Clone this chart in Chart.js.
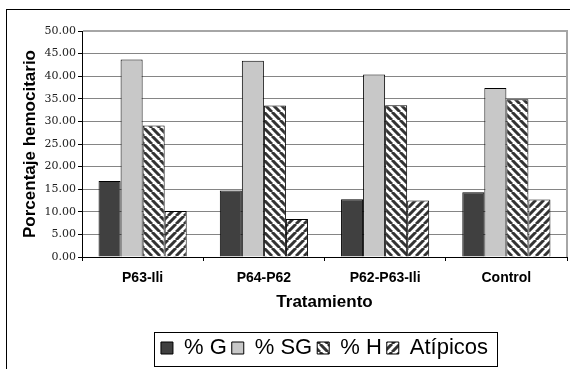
<!DOCTYPE html>
<html>
<head>
<meta charset="utf-8">
<script src="https://cdn.jsdelivr.net/npm/chart.js@4"></script>
<style>
  html, body { margin: 0; padding: 0; background: #fff; }
  canvas { display: block; }
</style>
</head>
<body>
<canvas id="c" width="570" height="369"></canvas>
<script>
const categories = ['P63-Ili', 'P64-P62', 'P62-P63-Ili', 'Control'];
const seriesNames = ['% G', '% SG', '% H', 'Atípicos'];
const valuesG = [16.8, 14.7, 12.8, 14.3];
const valuesSG = [43.7, 43.4, 40.4, 37.4];
const valuesH = [29.1, 33.5, 33.6, 34.9];
const valuesAtipicos = [10.2, 8.4, 12.5, 12.7];
const yTicks = [0, 5, 10, 15, 20, 25, 30, 35, 40, 45, 50];

// Diagonal stripe fill: 'down' = \\\ , 'up' = ///
function makeHatch(dir) {
  const c = document.createElement('canvas');
  c.width = 8; c.height = 8;
  const g = c.getContext('2d');
  g.fillStyle = '#ffffff';
  g.fillRect(0, 0, 8, 8);
  g.strokeStyle = '#333333';
  g.lineWidth = 3;
  g.beginPath();
  for (const o of [-8, 0, 8]) {
    if (dir === 'down') { g.moveTo(o, 0); g.lineTo(o + 8, 8); }
    else { g.moveTo(o, 8); g.lineTo(o + 8, 0); }
  }
  g.stroke();
  return g.createPattern(c, 'repeat');
}

const frame = {
  id: 'frame',
  beforeDraw(chart) {
    const ctx = chart.ctx;
    ctx.save();
    ctx.fillStyle = '#fff';
    ctx.fillRect(0, 0, chart.width, chart.height);
    ctx.strokeStyle = '#000';
    ctx.lineWidth = 1;
    ctx.strokeRect(6.5, 9.5, 700, 500);
    ctx.restore();
  },
  afterDraw(chart) {
    const ctx = chart.ctx;
    const a = chart.chartArea;
    ctx.save();
    // plot area edge, top and right
    ctx.strokeStyle = '#a6a6a6';
    ctx.lineWidth = 2;
    ctx.beginPath();
    ctx.moveTo(a.left + 1, a.top);
    ctx.lineTo(a.right, a.top);
    ctx.lineTo(a.right, a.bottom);
    ctx.stroke();
    // box round the legend
    const lg = chart.legend;
    const hb = lg.legendHitBoxes;
    if (hb && hb.length) {
      const l = Math.min(...hb.map(h => h.left)) - 7;
      const r = Math.max(...hb.map(h => h.left + h.width)) + 9;
      ctx.strokeStyle = '#000';
      ctx.lineWidth = 1;
      ctx.strokeRect(Math.round(l) + 0.5, Math.round(lg.top) + 0.5, Math.round(r - l), 34);
    }
    ctx.restore();
  }
};

const common = { borderColor: '#000', borderWidth: 1, categoryPercentage: 0.727, barPercentage: 1.0 };

new Chart(document.getElementById('c'), {
  type: 'bar',
  data: {
    labels: categories,
    datasets: [
      Object.assign({ label: seriesNames[0], data: valuesG, backgroundColor: '#404040' }, common),
      Object.assign({ label: seriesNames[1], data: valuesSG, backgroundColor: '#c8c8c8' }, common),
      Object.assign({ label: seriesNames[2], data: valuesH, backgroundColor: makeHatch('down') }, common),
      Object.assign({ label: seriesNames[3], data: valuesAtipicos, backgroundColor: makeHatch('up') }, common)
    ]
  },
  options: {
    responsive: false,
    animation: false,
    devicePixelRatio: 1,
    layout: { padding: { top: 31, left: 18, right: 3, bottom: 0 } },
    plugins: {
      tooltip: { enabled: false },
      legend: {
        position: 'bottom',
        fullSize: false,
        labels: {
          color: '#000',
          boxWidth: 12,
          boxHeight: 12,
          padding: 5,
          font: { family: 'Liberation Sans', size: 22 }
        }
      }
    },
    scales: {
      x: {
        afterFit(s) { s.height = 75; },
        grid: { drawOnChartArea: false, tickLength: 4, tickColor: '#000', offset: true },
        border: { color: '#000', width: 1 },
        ticks: { color: '#000', padding: 9, font: { family: 'Liberation Sans', size: 14, weight: 'bold' } },
        title: {
          display: true,
          text: 'Tratamiento',
          color: '#000',
          padding: { top: 0, bottom: 19 },
          font: { family: 'Liberation Sans', size: 17, weight: 'bold' }
        }
      },
      y: {
        min: 0,
        max: 50,
        afterFit(s) { s.width = 64; },
        afterBuildTicks(s) { s.ticks = yTicks.map(v => ({ value: v })); },
        grid: { color: '#858585', tickColor: '#000', tickLength: 4 },
        border: { color: '#000', width: 1 },
        ticks: {
          color: '#222',
          padding: 2,
          font: { family: 'DejaVu Serif', size: 11 },
          callback: v => Number(v).toFixed(2)
        },
        title: {
          display: true,
          text: 'Porcentaje hemocitario',
          color: '#000',
          padding: { top: 2, bottom: 0 },
          font: { family: 'Liberation Sans', size: 17, weight: 'bold' }
        }
      }
    }
  },
  plugins: [frame]
});
</script>
</body>
</html>
